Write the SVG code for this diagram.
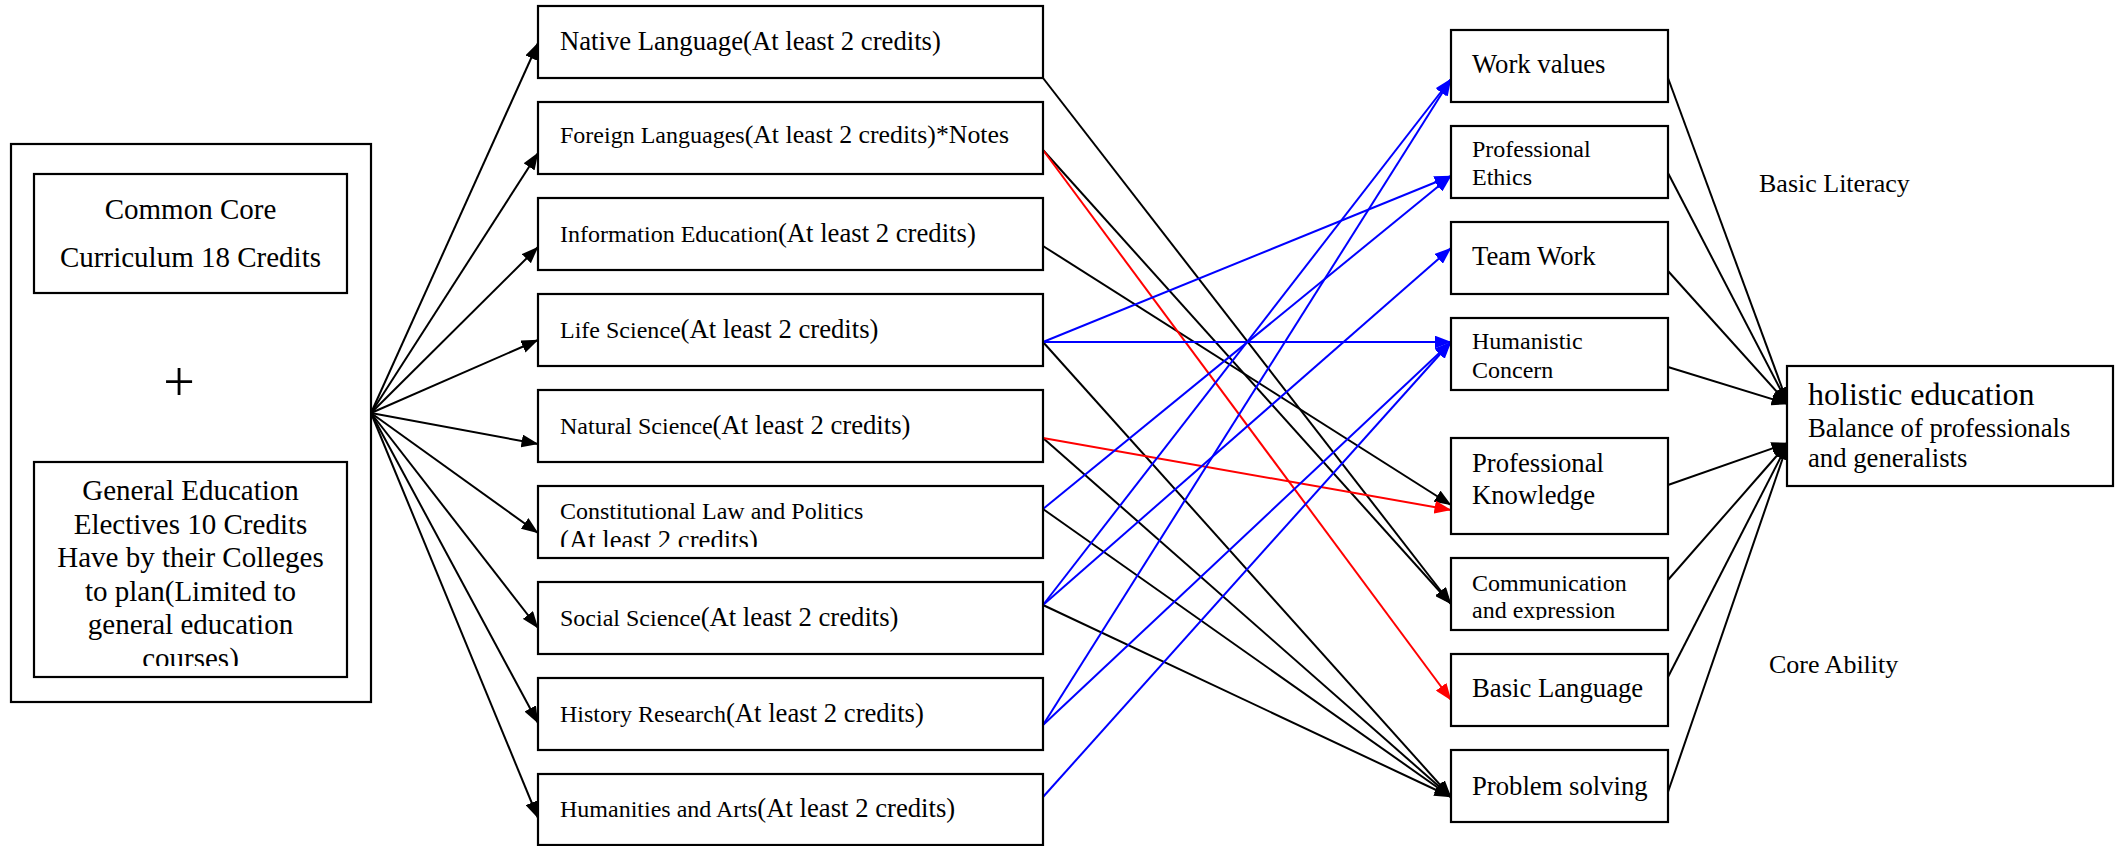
<svg xmlns="http://www.w3.org/2000/svg" width="2116" height="846" viewBox="0 0 2116 846">
<style>
.box{fill:#fff;stroke:#000;stroke-width:2.2}
.t{font-family:"Liberation Serif","Times New Roman",serif;fill:#000}
.s{font-size:24px}
.l{font-size:26.7px}
.c{stroke-width:2;fill:none}
.k{stroke:#000}
.b{stroke:#0000ff}
.r{stroke:#ff0000}
</style>
<defs>
<marker id="ak" markerUnits="userSpaceOnUse" markerWidth="17" markerHeight="13" viewBox="0 0 17 13" refX="16.5" refY="6.5" orient="auto"><path d="M0,0 L17,6.5 L0,13 z" fill="#000"/></marker>
<marker id="ab" markerUnits="userSpaceOnUse" markerWidth="17" markerHeight="13" viewBox="0 0 17 13" refX="16.5" refY="6.5" orient="auto"><path d="M0,0 L17,6.5 L0,13 z" fill="#0000ff"/></marker>
<marker id="ar" markerUnits="userSpaceOnUse" markerWidth="17" markerHeight="13" viewBox="0 0 17 13" refX="16.5" refY="6.5" orient="auto"><path d="M0,0 L17,6.5 L0,13 z" fill="#ff0000"/></marker>
<clipPath id="clipGen"><rect x="34" y="462" width="313" height="204"/></clipPath>
<clipPath id="clipConst"><rect x="538" y="486" width="505" height="61"/></clipPath>
<clipPath id="clipComm"><rect x="1451" y="558" width="217" height="62"/></clipPath>
</defs>

<g id="connectors">
<g class="c k" marker-end="url(#ak)">
<line x1="371" y1="413" x2="538" y2="43"/>
<line x1="371" y1="413" x2="538" y2="153"/>
<line x1="371" y1="413" x2="538" y2="247"/>
<line x1="371" y1="413" x2="538" y2="340"/>
<line x1="371" y1="413" x2="538" y2="444"/>
<line x1="371" y1="413" x2="538" y2="533"/>
<line x1="371" y1="413" x2="538" y2="628"/>
<line x1="371" y1="413" x2="538" y2="723"/>
<line x1="371" y1="413" x2="538" y2="818"/>
<line x1="1043" y1="78" x2="1451" y2="604"/>
<line x1="1043" y1="150" x2="1451" y2="604"/>
<line x1="1043" y1="246" x2="1451" y2="505"/>
<line x1="1043" y1="342" x2="1451" y2="797"/>
<line x1="1043" y1="438" x2="1451" y2="797"/>
<line x1="1043" y1="509" x2="1451" y2="797"/>
<line x1="1043" y1="605" x2="1451" y2="797"/>
<line x1="1668" y1="78" x2="1788" y2="404"/>
<line x1="1668" y1="173" x2="1788" y2="404"/>
<line x1="1668" y1="271" x2="1788" y2="404"/>
<line x1="1668" y1="367" x2="1788" y2="404"/>
<line x1="1668" y1="485" x2="1788" y2="443"/>
<line x1="1668" y1="580" x2="1788" y2="443"/>
<line x1="1668" y1="677" x2="1788" y2="443"/>
<line x1="1668" y1="792" x2="1788" y2="443"/>
</g>
<g class="c r" marker-end="url(#ar)">
<line x1="1043" y1="150" x2="1451" y2="700"/>
<line x1="1043" y1="438" x2="1451" y2="510"/>
</g>
<g class="c b" marker-end="url(#ab)">
<line x1="1043" y1="342" x2="1451" y2="176"/>
<line x1="1043" y1="342" x2="1451" y2="342"/>
<line x1="1043" y1="509" x2="1451" y2="176"/>
<line x1="1043" y1="605" x2="1451" y2="79"/>
<line x1="1043" y1="605" x2="1451" y2="248"/>
<line x1="1043" y1="725" x2="1451" y2="79"/>
<line x1="1043" y1="725" x2="1451" y2="342"/>
<line x1="1043" y1="797" x2="1451" y2="342"/>
</g>
</g>

<g id="core-group">
<rect class="box" x="11" y="144" width="360" height="558"/>
<g id="common-core">
<rect class="box" x="34" y="174" width="313" height="119"/>
<text class="t" font-size="29" text-anchor="middle"><tspan x="190.5" y="219">Common Core</tspan><tspan x="190.5" y="267">Curriculum 18 Credits</tspan></text>
</g>
<text class="t" font-size="56" text-anchor="middle" x="179" y="401">+</text>
<g id="ge-electives">
<rect class="box" x="34" y="462" width="313" height="215"/>
<text class="t" font-size="29" text-anchor="middle" clip-path="url(#clipGen)"><tspan x="190.5" y="500">General Education</tspan><tspan x="190.5" y="533.5">Electives 10 Credits</tspan><tspan x="190.5" y="567">Have by their Colleges</tspan><tspan x="190.5" y="600.5">to plan(Limited to</tspan><tspan x="190.5" y="634">general education</tspan><tspan x="190.5" y="668">courses)</tspan></text>
</g>
</g>

<g id="native">
<rect class="box" x="538" y="6" width="505" height="72"/>
<text class="t l" x="560" y="50">Native Language(At least 2 credits)</text>
</g>
<g id="foreign">
<rect class="box" x="538" y="102" width="505" height="72"/>
<text class="t" x="560" y="143"><tspan class="s">Foreign Languages</tspan><tspan font-size="25.8">(At least 2 credits)*Notes</tspan></text>
</g>
<g id="info">
<rect class="box" x="538" y="198" width="505" height="72"/>
<text class="t" x="560" y="242"><tspan class="s">Information Education</tspan><tspan class="l">(At least 2 credits)</tspan></text>
</g>
<g id="life">
<rect class="box" x="538" y="294" width="505" height="72"/>
<text class="t" x="560" y="338"><tspan class="s">Life Science</tspan><tspan class="l">(At least 2 credits)</tspan></text>
</g>
<g id="natural">
<rect class="box" x="538" y="390" width="505" height="72"/>
<text class="t" x="560" y="434"><tspan class="s">Natural Science</tspan><tspan class="l">(At least 2 credits)</tspan></text>
</g>
<g id="constitutional">
<rect class="box" x="538" y="486" width="505" height="72"/>
<text class="t" clip-path="url(#clipConst)"><tspan class="s" x="560" y="519">Constitutional Law and Politics</tspan><tspan class="l" x="560" y="549">(At least 2 credits)</tspan></text>
</g>
<g id="social">
<rect class="box" x="538" y="582" width="505" height="72"/>
<text class="t" x="560" y="626"><tspan class="s">Social Science</tspan><tspan class="l">(At least 2 credits)</tspan></text>
</g>
<g id="history">
<rect class="box" x="538" y="678" width="505" height="72"/>
<text class="t" x="560" y="722"><tspan class="s">History Research</tspan><tspan class="l">(At least 2 credits)</tspan></text>
</g>
<g id="humanities">
<rect class="box" x="538" y="774" width="505" height="71"/>
<text class="t" x="560" y="817"><tspan class="s">Humanities and Arts</tspan><tspan class="l">(At least 2 credits)</tspan></text>
</g>

<g id="work-values">
<rect class="box" x="1451" y="30" width="217" height="72"/>
<text class="t l" x="1472" y="73">Work values</text>
</g>
<g id="prof-ethics">
<rect class="box" x="1451" y="126" width="217" height="72"/>
<text class="t s"><tspan x="1472" y="157">Professional</tspan><tspan x="1472" y="185">Ethics</tspan></text>
</g>
<g id="team-work">
<rect class="box" x="1451" y="222" width="217" height="72"/>
<text class="t l" x="1472" y="265">Team Work</text>
</g>
<g id="humanistic">
<rect class="box" x="1451" y="318" width="217" height="72"/>
<text class="t s"><tspan x="1472" y="349">Humanistic</tspan><tspan x="1472" y="378">Concern</tspan></text>
</g>
<g id="prof-knowledge">
<rect class="box" x="1451" y="438" width="217" height="96"/>
<text class="t l"><tspan x="1472" y="472">Professional</tspan><tspan x="1472" y="504">Knowledge</tspan></text>
</g>
<g id="communication">
<rect class="box" x="1451" y="558" width="217" height="72"/>
<text class="t s" clip-path="url(#clipComm)"><tspan x="1472" y="591">Communication</tspan><tspan x="1472" y="618">and expression</tspan></text>
</g>
<g id="basic-language">
<rect class="box" x="1451" y="654" width="217" height="72"/>
<text class="t l" x="1472" y="697">Basic Language</text>
</g>
<g id="problem-solving">
<rect class="box" x="1451" y="750" width="217" height="72"/>
<text class="t l" x="1472" y="795">Problem solving</text>
</g>

<g id="holistic">
<rect class="box" x="1787" y="366" width="326" height="120"/>
<text class="t"><tspan x="1808" y="405" font-size="32">holistic education</tspan><tspan x="1808" y="437" font-size="26.7">Balance of professionals</tspan><tspan x="1808" y="467" font-size="26.7">and generalists</tspan></text>
</g>

<text id="basic-literacy" class="t" font-size="26" x="1759" y="192">Basic Literacy</text>
<text id="core-ability" class="t" font-size="26" x="1769" y="673">Core Ability</text>
</svg>
